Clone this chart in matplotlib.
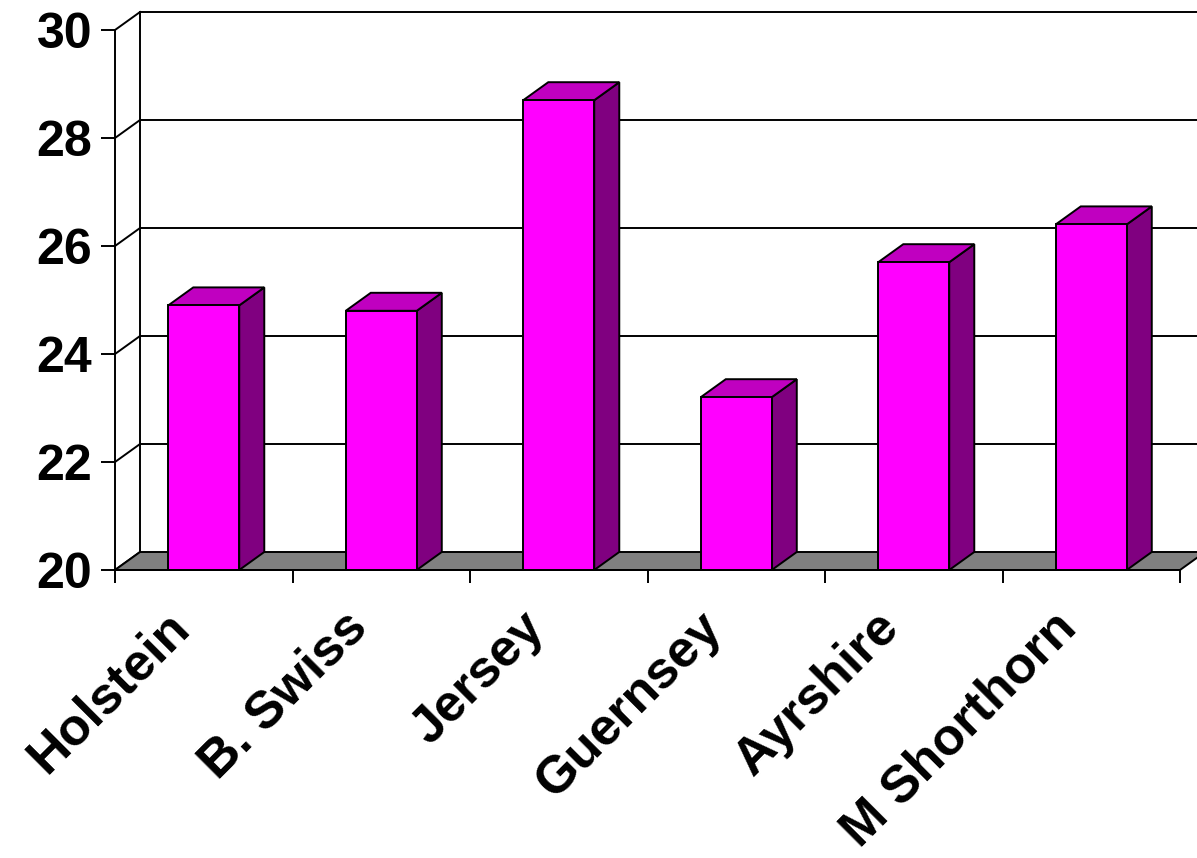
import numpy as np
import matplotlib.pyplot as plt
from matplotlib.patches import Polygon
from matplotlib.transforms import ScaledTranslation

breeds = ['Holstein', 'B. Swiss', 'Jersey', 'Guernsey', 'Ayrshire', 'M Shorthorn']
values = [24.9, 24.8, 28.7, 23.2, 25.7, 26.4]
yticks = [20, 22, 24, 26, 28, 30]

ymin, ymax = 20, 30
dx, dy = 0.141, 1 / 3      # depth of the box (x in categories, y in value units)
bar_lo, bar_hi = 0.3, 0.7  # front face of each column inside its category

front_c = '#FF00FF'
top_c = '#C000C0'
side_c = '#800080'
floor_c = '#808080'
lw = 1.4

plt.rcParams['font.family'] = ['Liberation Sans', 'DejaVu Sans']
plt.rcParams['font.weight'] = 'bold'

fig = plt.figure(figsize=(11.97, 8.58), dpi=100)
ax = fig.add_axes([115 / 1197, 288 / 858, 1065 / 1197, 540 / 858])
ax.set_xlim(0, len(breeds))
ax.set_ylim(ymin, ymax)
ncat = len(breeds)

# back wall: vertical edge, gridlines and the diagonals on the side wall
ax.plot([dx, dx], [ymin + dy, ymax + dy], color='black', lw=lw, clip_on=False, zorder=1)
for v in yticks:
    ax.plot([0, dx], [v, v + dy], color='black', lw=lw, clip_on=False, zorder=1)
    if v > ymin:
        ax.plot([dx, ncat + 1], [v + dy, v + dy], color='black', lw=lw, clip_on=False, zorder=1)

# floor
floor = Polygon([(0, ymin), (ncat, ymin), (ncat + dx, ymin + dy), (dx, ymin + dy)],
                closed=True, facecolor=floor_c, edgecolor='black', lw=lw, clip_on=False, zorder=2)
ax.add_patch(floor)

# columns: side, top, front
for i, v in enumerate(values):
    x0, x1 = i + bar_lo, i + bar_hi
    side = Polygon([(x1, ymin), (x1 + dx, ymin + dy), (x1 + dx, v + dy), (x1, v)],
                   facecolor=side_c, edgecolor='black', lw=lw, zorder=3, clip_on=False)
    top = Polygon([(x0, v), (x1, v), (x1 + dx, v + dy), (x0 + dx, v + dy)],
                  facecolor=top_c, edgecolor='black', lw=lw, zorder=3, clip_on=False)
    ax.add_patch(side)
    ax.add_patch(top)
    ax.bar(x0, v - ymin, bottom=ymin, width=x1 - x0, align='edge',
           color=front_c, edgecolor='black', lw=lw, zorder=4, clip_on=False)

for s in ['top', 'right']:
    ax.spines[s].set_visible(False)
for s in ['left', 'bottom']:
    ax.spines[s].set_linewidth(lw)
    ax.spines[s].set_zorder(5)

ax.set_yticks(yticks)
ax.set_yticklabels([str(t) for t in yticks])
ax.tick_params(axis='y', length=10, width=lw, pad=6.5, labelsize=36)

ax.set_xticks(range(ncat + 1))
ax.set_xticklabels([])
ax.tick_params(axis='x', which='major', length=9, width=lw)

# category names, slanted, ending just left of each column's centre
label_shift = ScaledTranslation(-0.22, -0.50, fig.dpi_scale_trans)
for i, name in enumerate(breeds):
    ax.text(i + 0.5, ymin, name, transform=ax.transData + label_shift,
            rotation=45, ha='right', va='center', rotation_mode='anchor',
            fontsize=37.5, fontweight='bold')

fig.savefig('out.png', dpi=100)
